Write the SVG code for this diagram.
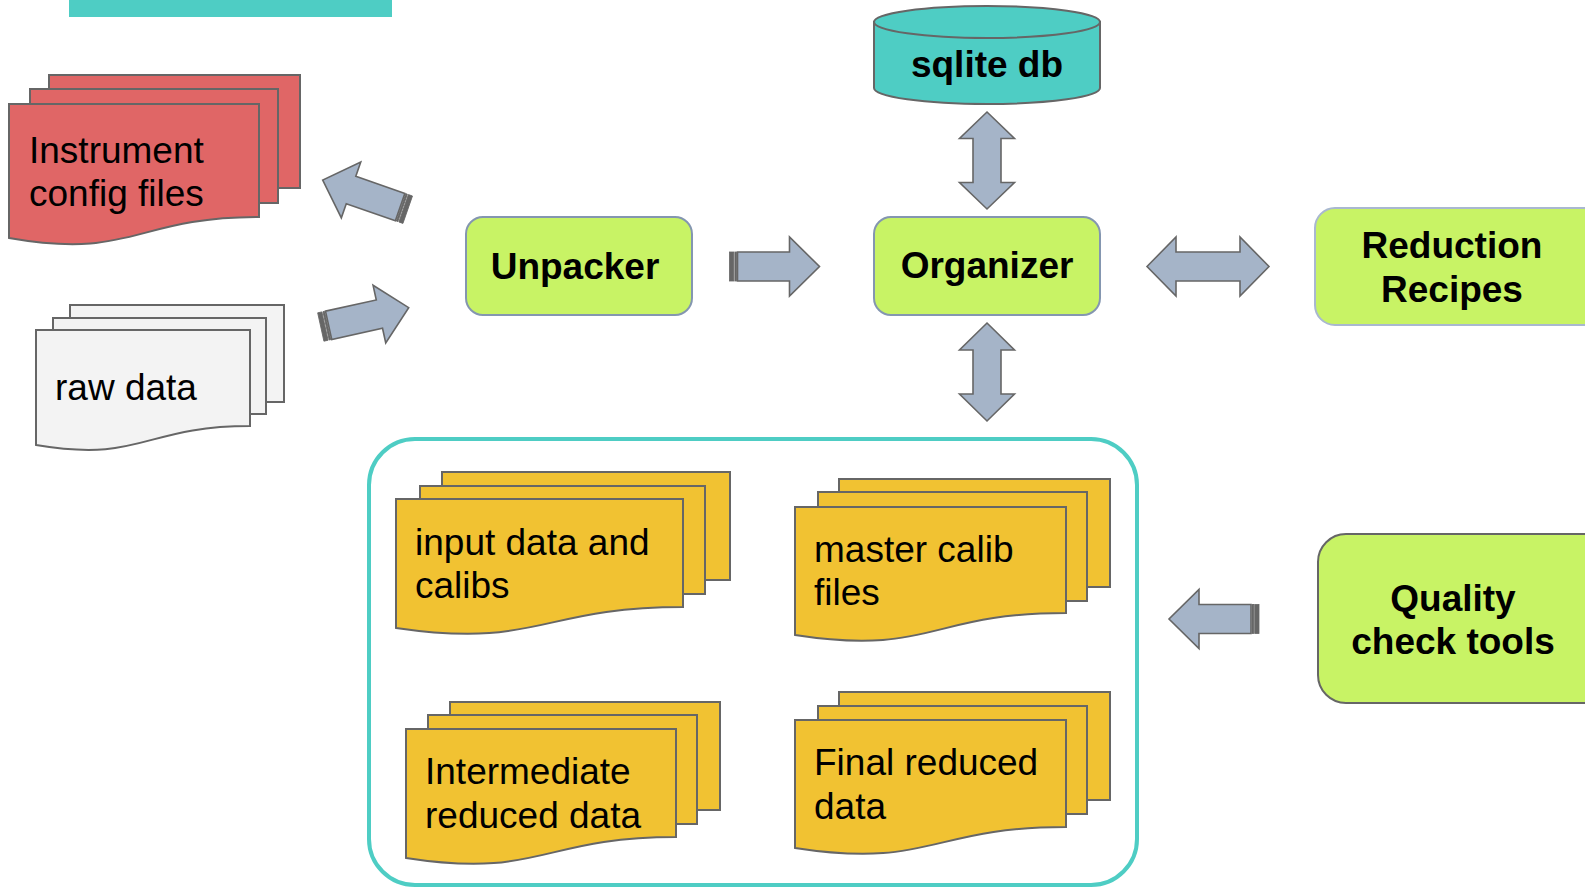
<svg xmlns="http://www.w3.org/2000/svg" xmlns:xlink="http://www.w3.org/1999/xlink" width="1585" height="887" viewBox="0 0 1585 887">
  <style>
    .sheet { stroke: #666666; stroke-width: 2; }
    .red { fill: #e06666; }
    .gray { fill: #f3f3f3; }
    .yellow { fill: #f1c232; }
    .doc-text { font-family: "Liberation Sans", Arial, sans-serif; font-size: 37px; fill: #000000; }
    .box { fill: #c8f365; stroke-width: 2; }
    .box-text { font-family: "Liberation Sans", Arial, sans-serif; font-size: 37px; font-weight: bold; fill: #000000; text-anchor: middle; }
    .arrow { fill: #a5b4c8; stroke: #666666; stroke-width: 1.6; stroke-linejoin: miter; }
    .stripe { fill: #666666; stroke: #666666; stroke-width: 0.8; }
  </style>
  <defs>
    <!-- striped block arrow: tail at origin, pointing along +x -->
    <g id="striped-arrow">
      <path class="arrow" d="M8,-14.5 H60 V-29.5 L90,0 L60,29.5 V14.5 H8 Z"/>
      <rect class="stripe" x="0" y="-14.5" width="4.3" height="29"/>
      <rect class="stripe" x="5.4" y="-14.5" width="1.6" height="29"/>
    </g>
  </defs>

  <rect id="title-bar" x="69" y="-2" width="323" height="19" fill="#4ecdc4"/>

  <!-- data group frame -->
  <rect id="storage-frame" x="369" y="439" width="768" height="446" rx="46" ry="46" fill="none" stroke="#4ecdc4" stroke-width="4"/>

  <g id="instrument-config">
    <rect class="sheet red" x="49" y="75" width="251" height="113"/>
    <rect class="sheet red" x="30" y="89" width="248" height="114"/>
    <path class="sheet red" d="M9,104 H259 V217 C134,217 134,260 9,238 Z"/>
    <text class="doc-text" x="29" y="163">Instrument</text>
    <text class="doc-text" x="29" y="206">config files</text>
  </g>

  <g id="raw-data">
    <rect class="sheet gray" x="70" y="305" width="214" height="97"/>
    <rect class="sheet gray" x="53" y="318" width="213" height="96"/>
    <path class="sheet gray" d="M36,330 H250 V426 C143,426 143,463 36,445 Z"/>
    <text class="doc-text" x="55" y="400">raw data</text>
  </g>

  <g id="sqlite-db">
    <path d="M874,22 V88 A113,16 0 0 0 1100,88 V22 Z" fill="#4ecdc4" stroke="#666666" stroke-width="2"/>
    <ellipse cx="987" cy="22" rx="113" ry="16" fill="#4ecdc4" stroke="#666666" stroke-width="2"/>
    <text class="box-text" x="987" y="77">sqlite db</text>
  </g>

  <g id="unpacker">
    <rect class="box" x="466" y="217" width="226" height="98" rx="17" ry="17" stroke="#8496b0"/>
    <text class="box-text" x="575" y="279">Unpacker</text>
  </g>

  <g id="organizer">
    <rect class="box" x="874" y="217" width="226" height="98" rx="17" ry="17" stroke="#8496b0"/>
    <text class="box-text" x="987" y="278">Organizer</text>
  </g>

  <g id="reduction-recipes">
    <rect class="box" x="1315" y="208" width="300" height="117" rx="20" ry="20" stroke="#a9b8d0"/>
    <text class="box-text" x="1452" y="258">Reduction</text>
    <text class="box-text" x="1452" y="302">Recipes</text>
  </g>

  <g id="quality-check-tools">
    <rect class="box" x="1318" y="534" width="300" height="169" rx="28" ry="28" stroke="#666666"/>
    <text class="box-text" x="1453" y="611">Quality</text>
    <text class="box-text" x="1453" y="654">check tools</text>
  </g>

  <g id="input-data">
    <rect class="sheet yellow" x="442" y="472" width="288" height="108"/>
    <rect class="sheet yellow" x="420" y="486" width="285" height="108"/>
    <path class="sheet yellow" d="M396,499 H683 V607 C539.5,607 539.5,649 396,628 Z"/>
    <text class="doc-text" x="415" y="555">input data and</text>
    <text class="doc-text" x="415" y="598">calibs</text>
  </g>

  <g id="master-calib">
    <rect class="sheet yellow" x="839" y="479" width="271" height="108"/>
    <rect class="sheet yellow" x="818" y="492" width="269" height="109"/>
    <path class="sheet yellow" d="M795,507 H1066 V613 C930.5,613 930.5,656 795,635 Z"/>
    <text class="doc-text" x="814" y="562">master calib</text>
    <text class="doc-text" x="814" y="605">files</text>
  </g>

  <g id="intermediate-data">
    <rect class="sheet yellow" x="450" y="702" width="270" height="108"/>
    <rect class="sheet yellow" x="428" y="715" width="269" height="109"/>
    <path class="sheet yellow" d="M406,729 H676 V837 C541,837 541,879 406,858 Z"/>
    <text class="doc-text" x="425" y="784">Intermediate</text>
    <text class="doc-text" x="425" y="828">reduced data</text>
  </g>

  <g id="final-data">
    <rect class="sheet yellow" x="839" y="692" width="271" height="108"/>
    <rect class="sheet yellow" x="818" y="706" width="269" height="108"/>
    <path class="sheet yellow" d="M795,720 H1066 V827 C930.5,827 930.5,869 795,848 Z"/>
    <text class="doc-text" x="814" y="775">Final reduced</text>
    <text class="doc-text" x="814" y="819">data</text>
  </g>

  <g id="connectors">
    <use xlink:href="#striped-arrow" transform="translate(407.7,209.7) rotate(199.2)"/>
    <use xlink:href="#striped-arrow" transform="translate(320.8,327) rotate(-12.4)"/>
    <use xlink:href="#striped-arrow" transform="translate(729.5,266.5)"/>
    <use xlink:href="#striped-arrow" transform="translate(1259,619) rotate(180)"/>
    <path class="arrow" d="M987,112 L1014.5,138.5 L1001,138.5 L1001,182.5 L1014.5,182.5 L987,209 L959.5,182.5 L973,182.5 L973,138.5 L959.5,138.5 Z"/>
    <path class="arrow" d="M987,323 L1014.5,350 L1001,350 L1001,394 L1014.5,394 L987,421 L959.5,394 L973,394 L973,350 L959.5,350 Z"/>
    <path class="arrow" d="M1147,266.5 L1176,237 L1176,252 L1240,252 L1240,237 L1269,266.5 L1240,296 L1240,281 L1176,281 L1176,296 Z"/>
  </g>
</svg>
